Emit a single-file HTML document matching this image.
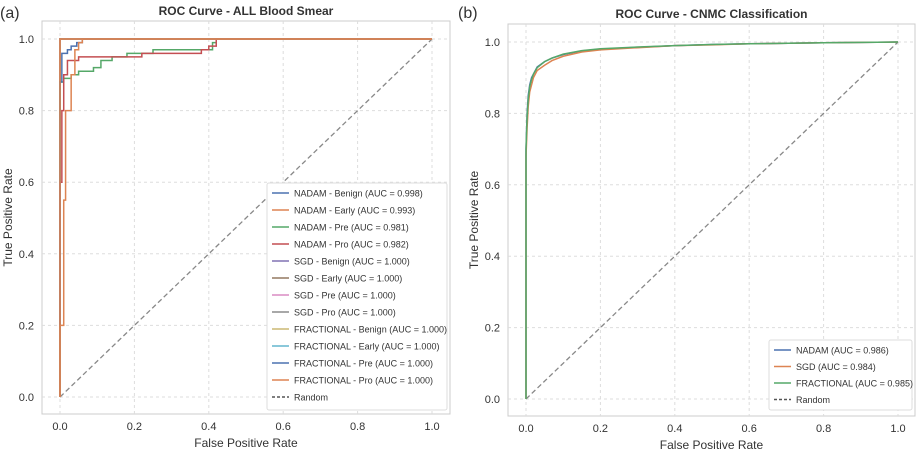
<!DOCTYPE html>
<html><head><meta charset="utf-8">
<style>
body{margin:0;background:#fff;width:920px;height:461px;overflow:hidden;font-family:"Liberation Sans",sans-serif}
svg text{font-family:"Liberation Sans",sans-serif;fill:#333}
</style></head><body>
<svg id="s" width="920" height="461"></svg>
<script>
// Panel (a) data: [fpr, tpr] pairs
const nadamBenign=[[0,0],[0,0.88],[0.005,0.96],[0.02,0.97],[0.03,0.98],[0.045,0.99],[0.06,1],[1,1]];
const nadamEarly=[[0,0],[0,0.2],[0.01,0.55],[0.015,0.8],[0.03,0.9],[0.04,0.97],[0.05,0.99],[0.06,1],[1,1]];
const nadamPre=[[0,0],[0,0.88],[0.01,0.89],[0.03,0.9],[0.05,0.91],[0.09,0.92],[0.11,0.94],[0.14,0.95],[0.18,0.96],[0.25,0.97],[0.39,0.97],[0.41,0.99],[0.42,1],[1,1]];
const nadamPro=[[0,0],[0,0.6],[0.005,0.8],[0.01,0.9],[0.02,0.94],[0.05,0.95],[0.2,0.95],[0.22,0.96],[0.33,0.96],[0.38,0.97],[0.4,0.98],[0.42,1],[1,1]];
const perfect=[[0,0],[0,1],[1,1]];
// Panel (b) data
const cnmcFpr=[0,0,0.003,0.006,0.01,0.015,0.02,0.03,0.05,0.07,0.1,0.15,0.2,0.3,0.4,0.5,0.6,0.8,1];
const nadamT=[0,0.7,0.8,0.85,0.88,0.9,0.91,0.93,0.945,0.955,0.965,0.975,0.98,0.985,0.99,0.993,0.995,0.998,1];
const sgdT=[0,0.68,0.76,0.82,0.86,0.88,0.9,0.92,0.935,0.948,0.96,0.972,0.978,0.984,0.99,0.992,0.995,0.998,1];
const fracT=[0,0.7,0.79,0.84,0.875,0.895,0.91,0.928,0.945,0.955,0.966,0.976,0.981,0.986,0.99,0.993,0.995,0.998,1];
const ticks=[0,0.2,0.4,0.6,0.8,1.0];
const legA=["NADAM - Benign (AUC = 0.998)","NADAM - Early (AUC = 0.993)","NADAM - Pre (AUC = 0.981)","NADAM - Pro (AUC = 0.982)","SGD - Benign (AUC = 1.000)","SGD - Early (AUC = 1.000)","SGD - Pre (AUC = 1.000)","SGD - Pro (AUC = 1.000)","FRACTIONAL - Benign (AUC = 1.000)","FRACTIONAL - Early (AUC = 1.000)","FRACTIONAL - Pre (AUC = 1.000)","FRACTIONAL - Pro (AUC = 1.000)"];
const legB=["NADAM (AUC = 0.986)","SGD (AUC = 0.984)","FRACTIONAL (AUC = 0.985)"];
const colA=["#4c72b0","#dd8452","#55a868","#c44e52","#8172b3","#937860","#da8bc3","#8c8c8c","#ccb974","#64b5cd","#4c72b0","#dd8452"];
const colB=["#4c72b0","#dd8452","#55a868"];
const S=document.getElementById('s');const NS="http://www.w3.org/2000/svg";
function el(t,a,txt){const e=document.createElementNS(NS,t);for(const k in a)e.setAttribute(k,a[k]);if(txt!=null)e.textContent=txt;S.appendChild(e);return e;}
function panel(p){
 const sx=v=>p.x0+v*(p.x1-p.x0), sy=v=>p.y0+v*(p.y1-p.y0);
 let f=el('rect',{x:p.fx,y:p.fy,width:p.fw,height:p.fh,fill:'#fff',stroke:'#ccc','stroke-width':1});
 
 ticks.forEach(t=>{
  let g=el('line',{x1:sx(t),x2:sx(t),y1:p.fy,y2:p.fy+p.fh,stroke:'#ddd','stroke-dasharray':'3,3'});
  
  g=el('line',{y1:sy(t),y2:sy(t),x1:p.fx,x2:p.fx+p.fw,stroke:'#ddd','stroke-dasharray':'3,3'});
  
  let l=el('text',{x:sx(t),y:p.fy+p.fh+16,'text-anchor':'middle','font-size':11},t.toFixed(1));
  
  l=el('text',{x:p.fx-8,y:sy(t)+4,'text-anchor':'end','font-size':11},t.toFixed(1));
  
 });
 let t=el('text',{x:(p.fx+p.fx+p.fw)/2,y:p.fy-6,'text-anchor':'middle','font-size':12,'font-weight':'bold'},p.title);
 
 t=el('text',{x:(p.fx+p.fx+p.fw)/2,y:p.fy+p.fh+33,'text-anchor':'middle','font-size':12},'False Positive Rate');
 
 const yc=p.fy+p.fh/2;
 t=el('text',{x:p.fx-30,y:yc,'text-anchor':'middle','font-size':12,transform:`rotate(-90 ${p.fx-30} ${yc})`},'True Positive Rate');
 
 t=el('text',{x:p.lx,y:18,'font-size':16},p.label);
 
 let d=el('line',{x1:sx(0),y1:sy(0),x2:sx(1),y2:sy(1),stroke:'#888','stroke-width':1.3,'stroke-dasharray':'5,3'});
 
 p.series.forEach((s,i)=>{
  const pts=s.pts;let dd='';
  pts.forEach((q,j)=>{ if(p.step&&j>0){dd+=`L${sx(q[0])},${sy(pts[j-1][1])}`;} dd+=(j?'L':'M')+sx(q[0])+','+sy(q[1]); });
  const pa=el('path',{d:dd,fill:'none',stroke:s.c,'stroke-width':1.5});
  
 });
 const lg=el('rect',{x:p.lgx,y:p.lgy,width:p.lgw,height:p.lgh,fill:'#fff',stroke:'#ddd',rx:2});
 
 const items=p.legend.concat(['Random']);
 items.forEach((txt,i)=>{
  const y=p.lgy+10+i*p.lgs;
  const ln=el('line',{x1:p.lgx+5,x2:p.lgx+22,y1:y,y2:y,stroke:i<p.legend.length?p.cols[i]:'#555','stroke-width':1.5,'stroke-dasharray':i<p.legend.length?'none':'3,2'});
  
  const tx=el('text',{x:p.lgx+27,y:y+3.5,'font-size':9},txt);
  
 });
}
const seriesA=[nadamBenign,nadamEarly,nadamPre,nadamPro];
const sa=[];
for(let i=4;i<12;i++)sa.push({pts:perfect,c:colA[i],name:'roc-perfect-'+i});
[2,3,0,1].forEach(i=>sa.push({pts:seriesA[i],c:colA[i],name:'roc-nadam-'+i}));
sa.push({pts:perfect,c:'#dd8452',name:'roc-fractional-pro'});
panel({id:'panel-a',title:'ROC Curve - ALL Blood Smear',label:'(a)',lx:0,fx:42,fy:21,fw:408,fh:393,x0:60,x1:432,y0:397,y1:39,step:true,series:sa,legend:legA,cols:colA,lgx:267,lgy:183,lgw:180,lgh:227,lgs:17});
const sb=[nadamT,sgdT,fracT].map((a,i)=>({pts:cnmcFpr.map((f,j)=>[f,a[j]]),c:colB[i],name:'roc-cnmc-'+i}));
panel({id:'panel-b',title:'ROC Curve - CNMC Classification',label:'(b)',lx:458,fx:508,fy:24,fw:407,fh:392,x0:526,x1:898,y0:399,y1:42,step:false,series:sb,legend:legB,cols:colB,lgx:769,lgy:340,lgw:143,lgh:70,lgs:16.5});
</script>
</body></html>
